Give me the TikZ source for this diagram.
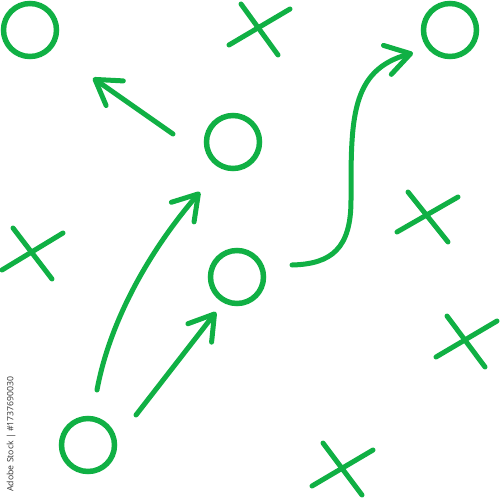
\documentclass[tikz,border=0pt]{standalone}
\usepackage{fontspec}
\setsansfont{Open Sans}
\usetikzlibrary{arrows.meta}
\definecolor{pgreen}{RGB}{16,176,68}
\begin{document}
\begin{tikzpicture}[x=1pt,y=-1pt,
  player/.style={circle,draw=pgreen,line width=5.5pt,minimum size=53pt,inner sep=0pt},
  crossline/.style={draw=pgreen,line width=5pt,line cap=round},
  move/.style={draw=pgreen,line width=5pt,line cap=round,
    -{Straight Barb[length=24pt 0 0,width=30pt 0 0,round]}}]
\useasboundingbox (0,0) rectangle (500,498);
% players (circles)
\node[player] (c1) at (30,30) {};
\node[player] (c2) at (233,142) {};
\node[player] (c3) at (450,30) {};
\node[player] (c4) at (237,277) {};
\node[player] (c5) at (88,445) {};
% defenders (crosses)
\coordinate (x1a) at (229,45); \coordinate (x1b) at (290,9);
\coordinate (x1c) at (241,4); \coordinate (x1d) at (278,55);
\draw[crossline] (x1a) -- (x1b); \draw[crossline] (x1c) -- (x1d);
\coordinate (x2a) at (13,228); \coordinate (x2b) at (52,279);
\coordinate (x2c) at (63,233); \coordinate (x2d) at (2,270);
\draw[crossline] (x2a) -- (x2b); \draw[crossline] (x2c) -- (x2d);
\coordinate (x3a) at (408,192); \coordinate (x3b) at (448,242);
\coordinate (x3c) at (458,197); \coordinate (x3d) at (397,232);
\draw[crossline] (x3a) -- (x3b); \draw[crossline] (x3c) -- (x3d);
\coordinate (x4a) at (447,316); \coordinate (x4b) at (485,367);
\coordinate (x4c) at (497,321); \coordinate (x4d) at (436,357);
\draw[crossline] (x4a) -- (x4b); \draw[crossline] (x4c) -- (x4d);
\coordinate (x5a) at (323,443); \coordinate (x5b) at (362,495);
\coordinate (x5c) at (373,450); \coordinate (x5d) at (312,486);
\draw[crossline] (x5a) -- (x5b); \draw[crossline] (x5c) -- (x5d);
% routes
\coordinate (a1s) at (173,134); \coordinate (a1e) at (93,78);
\draw[move] (a1s) -- (a1e);
\coordinate (a2s) at (97,390); \coordinate (a2e) at (200,192);
\draw[move] (a2s) .. controls (110,320) and (150,250) .. (a2e);
\coordinate (a3s) at (136,415); \coordinate (a3e) at (216,312);
\draw[move] (a3s) -- (a3e);
\coordinate (a4s) at (292,265); \coordinate (a4m) at (351,200); \coordinate (a4e) at (413,53);
\draw[move] (a4s) .. controls (332,264) and (351,248) .. (a4m)
  .. controls (351,120) and (350,70) .. (a4e);
% watermark label
\node[rotate=90,text=black!80,font=\sffamily\fontsize{8.7}{10}\selectfont,inner sep=0pt] (wm) at (11,434) {Adobe Stock | \#1737690030};
\end{tikzpicture}
\end{document}
